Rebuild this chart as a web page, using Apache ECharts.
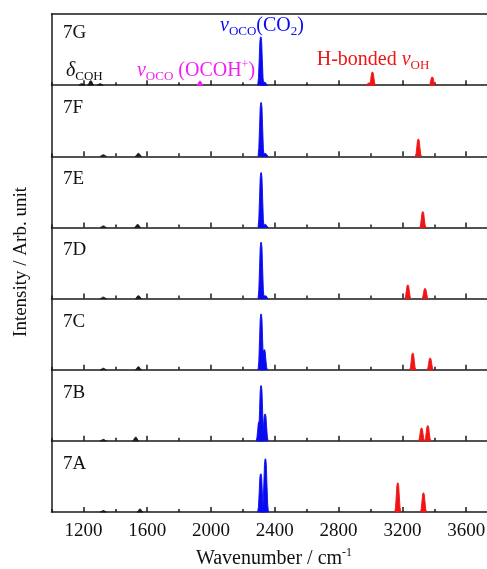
<!DOCTYPE html>
<html>
<head>
<meta charset="utf-8">
<script src="https://cdn.jsdelivr.net/npm/echarts@6/dist/echarts.min.js"></script>
<style>
  html, body { margin: 0; padding: 0; background: #fff; }
  #chart { width: 487px; height: 569px; }
</style>
</head>
<body>
<div id="chart"></div>
<script>
// Computed vibrational spectra of clusters 7G ... 7A, one panel per cluster (top to bottom).
const panelNames = ['7G', '7F', '7E', '7D', '7C', '7B', '7A'];

// Band lists per panel: [wavenumber (cm^-1), intensity (arb. unit, panel full height = 100)]
const co2Bands = [
  [[2312, 67.5], [2336, 4]],
  [[2314, 75.4], [2340, 4]],
  [[2314, 76.8], [2340, 4]],
  [[2314, 78.8], [2340, 4]],
  [[2314, 78.0], [2334, 28]],
  [[2302, 26.7], [2314, 77.4], [2339, 37.5]],
  [[2312, 53.4], [2341, 74.5]]
];
const ohBands = [
  [[2990, 3], [3012, 18.3], [3387, 11.3]],
  [[3300, 24]],
  [[3328, 22]],
  [[3234, 19], [3342, 14]],
  [[3265, 23.2], [3374, 16.2]],
  [[3320, 17.9], [3359, 21.1]],
  [[3171, 40.8], [3332, 26.7]]
];
const ocohBands = [
  [[1931, 5.6]],
  [], [], [], [], [], []
];
const cohBands = [
  [[1190, 2], [1246, 6], [1305, 2]],
  [[1325, 2], [1545, 4]],
  [[1325, 2], [1540, 4]],
  [[1325, 2], [1545, 4]],
  [[1325, 2], [1545, 4]],
  [[1325, 2], [1528, 5]],
  [[1325, 2], [1555, 4]]
];

const majorTicks = [1200, 1600, 2000, 2400, 2800, 3200, 3600];
const minorTicks = [1000, 1400, 1800, 2200, 2600, 3000, 3400, 3800];
const X_MIN = 1000, X_MAX = 3800, Y_MAX = 100;

// Layout
const PLOT_LEFT = 51.5, PLOT_TOP = 14, PANEL_H = 71.14, PLOT_W = 446.6;
const FONT = '"Liberation Serif", "DejaVu Serif", serif';
const INK = '#1a1a1a';
const BLUE = '#0a0af0', RED = '#f01414', MAGENTA = '#f020f0';
const FRAME = { show: true, lineStyle: { color: INK, width: 1.5 } };

// Relative outline of a single band (offset in half-widths, fraction of height)
const BAND_SHAPE = [[-1, 0], [-0.75, 0.15], [-0.5, 0.55], [-0.3, 0.9], [-0.12, 1],
                    [0.12, 1], [0.3, 0.9], [0.5, 0.55], [0.75, 0.15], [1, 0]];
const BAND_HALF_WIDTH = 19;

function bandSeries(bands, color, i) {
  return {
    type: 'custom',
    xAxisIndex: 2 * i,
    yAxisIndex: i,
    data: bands,
    encode: { x: 0, y: 1 },
    silent: true,
    renderItem: function (params, api) {
      const c = api.value(0), h = api.value(1);
      const pts = BAND_SHAPE.map(p => api.coord([c + p[0] * BAND_HALF_WIDTH, h * p[1]]));
      return {
        type: 'polygon',
        shape: { points: pts },
        style: { fill: color, stroke: color, lineWidth: 0.9 }
      };
    }
  };
}

const grids = [], xAxes = [], yAxes = [], series = [], graphics = [];

panelNames.forEach((name, i) => {
  const top = PLOT_TOP + i * PANEL_H;
  grids.push({
    left: PLOT_LEFT, top: top, width: PLOT_W, height: PANEL_H,
    outerBoundsMode: 'none', containLabel: false, show: false
  });
  // bottom frame line, major ticks (+ labels on the bottom panel)
  xAxes.push({
    gridIndex: i, type: 'value', position: 'bottom', min: X_MIN, max: X_MAX,
    axisLine: FRAME, splitLine: { show: false },
    axisTick: { show: true, inside: true, length: 5, customValues: majorTicks,
                lineStyle: { color: INK, width: 1.5 } },
    axisLabel: { show: i === panelNames.length - 1, customValues: majorTicks,
                 formatter: v => String(v), hideOverlap: false,
                 fontFamily: FONT, fontSize: 19, color: '#111', margin: 10 }
  });
  // minor ticks
  xAxes.push({
    gridIndex: i, type: 'value', position: 'bottom', min: X_MIN, max: X_MAX,
    axisLine: { show: false }, splitLine: { show: false },
    axisTick: { show: true, inside: true, length: 3, customValues: minorTicks,
                lineStyle: { color: INK, width: 1.5 } },
    axisLabel: { show: false }
  });
  // left frame line
  yAxes.push({
    gridIndex: i, type: 'value', min: 0, max: Y_MAX,
    axisLine: FRAME, axisTick: { show: false }, axisLabel: { show: false },
    splitLine: { show: false }
  });

  series.push(bandSeries(cohBands[i], INK, i));
  series.push(bandSeries(ocohBands[i], MAGENTA, i));
  series.push(bandSeries(co2Bands[i], BLUE, i));
  series.push(bandSeries(ohBands[i], RED, i));

  graphics.push({
    type: 'text', x: 63, y: top + (i === 0 ? 19.5 : 23),
    style: { text: name, fontFamily: FONT, fontSize: 19, fill: '#111',
             textAlign: 'left', textVerticalAlign: 'middle' }
  });
});

// top frame line of the first panel
xAxes.push({
  gridIndex: 0, type: 'value', position: 'top', min: X_MIN, max: X_MAX,
  axisLine: FRAME, axisTick: { show: false }, axisLabel: { show: false },
  splitLine: { show: false }
});

function richStyles(color) {
  return {
    nu:  { fontFamily: FONT, fontStyle: 'italic', fontSize: 20, fill: color, lineHeight: 24 },
    n:   { fontFamily: FONT, fontSize: 20, fill: color, lineHeight: 24 },
    sub: { fontFamily: FONT, fontSize: 13, fill: color, lineHeight: 14,
           verticalAlign: 'bottom', padding: [3, 0, 0, 0] },
    sup: { fontFamily: FONT, fontSize: 12, fill: color, lineHeight: 12, verticalAlign: 'top' }
  };
}

function annotation(x, y, text, color, align) {
  return {
    type: 'text', x: x, y: y,
    style: { text: text, rich: richStyles(color), fill: color, fontFamily: FONT, fontSize: 20,
             textAlign: align || 'center', textVerticalAlign: 'middle' }
  };
}

// band assignments in the top panel
graphics.push(annotation(262, 26, '{nu|ν}{sub|OCO}{n|(CO}{sub|2}{n|)}', BLUE));
graphics.push(annotation(373, 60, '{n|H-bonded }{nu|ν}{sub|OH}', RED));
graphics.push(annotation(196, 71, '{nu|ν}{sub|OCO}{n| (OCOH}{sup|+}{n|)}', MAGENTA));
graphics.push(annotation(66, 71, '{nu|δ}{sub|COH}', '#111', 'left'));

// axis titles
graphics.push({
  type: 'text', x: 21.5, y: 262, rotation: Math.PI / 2,
  style: { text: 'Intensity / Arb. unit', fontFamily: FONT, fontSize: 19, fill: '#111',
           textAlign: 'center', textVerticalAlign: 'middle' }
});
graphics.push(annotation(274, 559, '{n|Wavenumber / cm}{sup|-1}', '#111'));

const chart = echarts.init(document.getElementById('chart'), null, { renderer: 'canvas' });
chart.setOption({
  animation: false,
  backgroundColor: '#fff',
  grid: grids,
  xAxis: xAxes,
  yAxis: yAxes,
  series: series,
  graphic: graphics
});
</script>
</body>
</html>
